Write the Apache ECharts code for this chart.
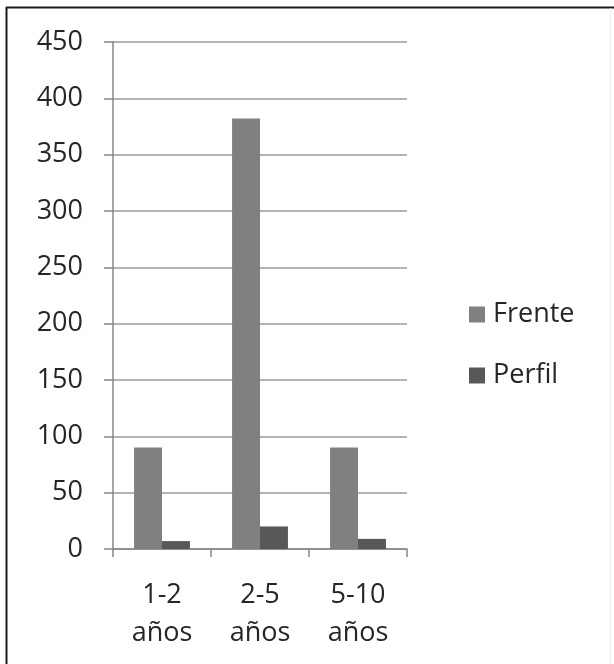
<!DOCTYPE html>
<html>
<head>
<meta charset="utf-8">
<script src="https://cdn.jsdelivr.net/npm/echarts@6/dist/echarts.min.js"></script>
<style>
  html, body { margin: 0; padding: 0; background: #fff; }
  #chart { width: 614px; height: 664px; }
</style>
</head>
<body>
<div id="chart"></div>
<script>
// Age groups on the category axis
const categories = ['1-2\naños', '2-5\naños', '5-10\naños'];
// Counts per view
const frente = [90, 382, 90];
const perfil = [7, 20, 9];
// Value-axis ticks
const yMin = 0;
const yMax = 450;
const yStep = 50;

const FONT = '"Open Sans", "Noto Sans", sans-serif';
const TEXT = '#262626';
const chart = echarts.init(document.getElementById('chart'), null, { renderer: 'canvas' });

chart.setOption({
  backgroundColor: '#ffffff',
  animation: false,
  textStyle: { fontFamily: FONT },
  graphic: [
    // outer frame: dark top and left edges, faint right edge
    { type: 'line', shape: { x1: 6, y1: 7.5, x2: 614, y2: 7.5 }, style: { stroke: '#1a1a1a', lineWidth: 2 } },
    { type: 'line', shape: { x1: 6.5, y1: 7, x2: 6.5, y2: 664 }, style: { stroke: '#1a1a1a', lineWidth: 2 } },
    { type: 'line', shape: { x1: 610.5, y1: 8, x2: 610.5, y2: 664 }, style: { stroke: '#ececec', lineWidth: 1 } }
  ],
  grid: { left: 113, right: 207, top: 42, bottom: 115, containLabel: false },
  legend: {
    orient: 'vertical',
    left: 464,
    top: 296,
    itemGap: 34,
    itemWidth: 16,
    itemHeight: 16,
    icon: 'rect',
    textStyle: { fontSize: 27, color: TEXT, fontFamily: FONT, padding: [0, 0, 0, 3] },
    data: ['Frente', 'Perfil']
  },
  xAxis: {
    type: 'category',
    data: categories,
    axisLine: { lineStyle: { color: '#868686', width: 1.5 } },
    axisTick: { show: true, length: 8, lineStyle: { color: '#868686', width: 1.5 } },
    axisLabel: { fontSize: 27, color: TEXT, margin: 27, lineHeight: 38, fontFamily: FONT }
  },
  yAxis: {
    type: 'value',
    min: yMin,
    max: yMax,
    interval: yStep,
    axisLine: { show: true, lineStyle: { color: '#868686', width: 1.5 } },
    axisTick: { show: true, length: 9, lineStyle: { color: '#868686', width: 1.5 } },
    axisLabel: { fontSize: 27, color: TEXT, margin: 30, fontFamily: FONT },
    splitLine: { lineStyle: { color: '#9a9a9a', width: 1.5 } }
  },
  series: [
    {
      name: 'Frente',
      type: 'bar',
      data: frente,
      barGap: '0%',
      barCategoryGap: '43%',
      itemStyle: { color: '#808080' }
    },
    {
      name: 'Perfil',
      type: 'bar',
      data: perfil,
      barGap: '0%',
      barCategoryGap: '43%',
      itemStyle: { color: '#585858' }
    }
  ]
});
</script>
</body>
</html>
